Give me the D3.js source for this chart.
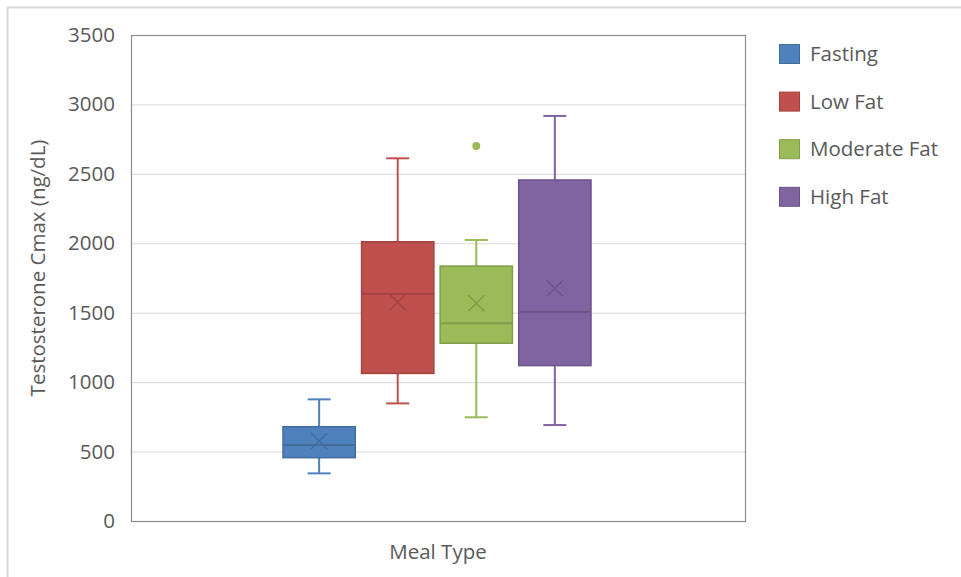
<!DOCTYPE html>
<html><head><meta charset="utf-8">
<script src="https://cdn.jsdelivr.net/npm/d3@7"></script>
<style>body{margin:0;background:#fff}svg{display:block}text{font-family:"Open Sans",sans-serif;fill:#595959}</style>
</head><body>
<svg id="c" width="961" height="577"></svg>
<script>
const categories = ["Meal Type"];
const seriesNames = ["Fasting","Low Fat","Moderate Fat","High Fat"];
const mins    = [343, 847, 747, 691];
const q1s     = [456, 1063, 1280, 1119];
const medians = [547, 1637, 1424, 1507];
const q3s     = [679, 2011, 1836, 2456];
const maxs    = [876, 2612, 2024, 2917];
const means   = [576, 1575, 1568, 1676];
const outliers = [[], [], [2700], []];
const yTicks = [0,500,1000,1500,2000,2500,3000,3500];
const colors = ["#4f81bd","#c0504d","#9bbb59","#8064a2"];

const svg = d3.select("#c");
const W = 961, H = 577;
const m = {l:131, r:745, t:35, b:521};
const FS = 20.5;

svg.append("path").attr("d",`M7.5,${H}V7.5H${W}`).attr("fill","none").attr("stroke","#d9d9d9").attr("stroke-width",2);

const y = d3.scaleLinear().domain([0,3500]).range([m.b,m.t]);
const x0 = d3.scaleBand().domain(categories).range([m.l,m.r]);
const x1 = d3.scaleBand().domain(seriesNames).range([x0("Meal Type")+152, x0("Meal Type")+460]).paddingInner(0.08);

svg.append("g").selectAll("line").data(yTicks.filter(d=>d>0&&d<3500)).join("line")
  .attr("x1",m.l).attr("x2",m.r).attr("y1",d=>y(d)+0.5).attr("y2",d=>y(d)+0.5)
  .attr("stroke","#d9d9d9").attr("stroke-width",1);

const ya = svg.append("g").attr("transform",`translate(${m.l},0)`)
  .call(d3.axisLeft(y).tickValues(yTicks).tickFormat(d3.format("d")).tickSize(0).tickPadding(16));
ya.select(".domain").remove();
ya.selectAll("text").attr("font-size",FS).attr("fill","#595959").style("font-family",'"Open Sans",sans-serif');

svg.append("rect").attr("x",m.l+0.5).attr("y",m.t+0.5).attr("width",m.r-m.l).attr("height",m.b-m.t)
  .attr("fill","none").attr("stroke","#8c8c8c").attr("stroke-width",1.2);

const darker = c => d3.color(c).darker(0.5).formatHex();
const bw = x1.bandwidth();
const cap = 23;
seriesNames.forEach((s,i)=>{
  const g = svg.append("g");
  const cx = x1(s)+bw/2, col = colors[i];
  g.append("line").attr("x1",cx).attr("x2",cx).attr("y1",y(maxs[i])).attr("y2",y(q3s[i])).attr("stroke",col).attr("stroke-width",2);
  g.append("line").attr("x1",cx).attr("x2",cx).attr("y1",y(q1s[i])).attr("y2",y(mins[i])).attr("stroke",col).attr("stroke-width",2);
  [maxs[i],mins[i]].forEach(v=>g.append("line").attr("x1",cx-cap/2).attr("x2",cx+cap/2).attr("y1",y(v)).attr("y2",y(v)).attr("stroke",col).attr("stroke-width",2));
  g.append("rect").attr("x",x1(s)).attr("y",y(q3s[i])).attr("width",bw).attr("height",y(q1s[i])-y(q3s[i]))
    .attr("fill",col).attr("stroke",darker(col)).attr("stroke-width",1.5);
  g.append("line").attr("x1",x1(s)).attr("x2",x1(s)+bw).attr("y1",y(medians[i])).attr("y2",y(medians[i])).attr("stroke",darker(col)).attr("stroke-width",2);
  const my = y(means[i]), r = 8;
  g.append("path").attr("d",`M${cx-r},${my-r}L${cx+r},${my+r}M${cx-r},${my+r}L${cx+r},${my-r}`)
    .attr("stroke",darker(col)).attr("stroke-width",1.5).attr("fill","none");
  outliers[i].forEach(v=>g.append("circle").attr("cx",cx).attr("cy",y(v)).attr("r",4).attr("fill",col));
});

const lg = svg.append("g");
seriesNames.forEach((s,i)=>{
  const yy = 54 + i*47.6;
  lg.append("rect").attr("x",779.5).attr("y",yy-9.5).attr("width",20).attr("height",19)
    .attr("fill",colors[i]).attr("stroke",darker(colors[i])).attr("stroke-width",1);
  lg.append("text").attr("x",810).attr("y",yy).attr("dy","0.35em").attr("font-size",FS).text(s);
});

svg.append("text").attr("x",438).attr("y",552).attr("text-anchor","middle").attr("dy","0.35em").attr("font-size",FS).text("Meal Type");
svg.append("text").attr("transform","translate(38,268) rotate(-90)").attr("text-anchor","middle").attr("dy","0.35em").attr("font-size",FS).text("Testosterone Cmax (ng/dL)");
</script>
</body></html>
